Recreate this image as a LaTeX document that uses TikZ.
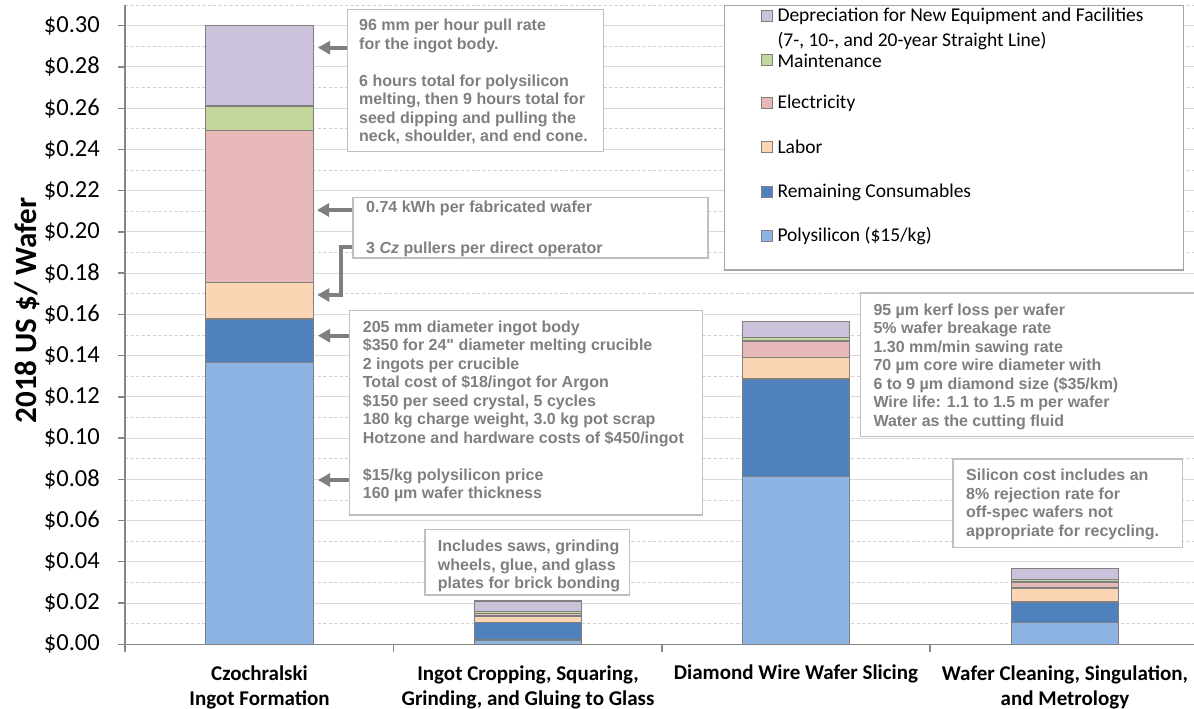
\documentclass[tikz,border=0pt]{standalone}
\usepackage{fontspec}
\setmainfont{Carlito}
\newfontfamily\arialf{Liberation Sans}
\usetikzlibrary{arrows.meta}
\definecolor{cDep}{HTML}{CCC1DA}
\definecolor{cMaint}{HTML}{C3D69B}
\definecolor{cElec}{HTML}{E6B9B8}
\definecolor{cLab}{HTML}{FCD5B5}
\definecolor{cCons}{HTML}{4F81BD}
\definecolor{cPoly}{HTML}{8EB4E3}
\definecolor{barline}{HTML}{7F7F7F}
\definecolor{gridc}{HTML}{D9D9D9}
\definecolor{gridd}{HTML}{CFCFCF}
\definecolor{axisc}{HTML}{868686}
\definecolor{notegray}{HTML}{7F7F7F}
\definecolor{boxline}{HTML}{BFBFBF}
\definecolor{arrowgray}{HTML}{7F7F7F}
\newcommand\stackbar[7]{%
  \foreach \lo/\hi/\col in {0/#2/cPoly,#2/#3/cCons,#3/#4/cLab,#4/#5/cElec,#5/#6/cMaint,#6/#7/cDep}
    \draw[barseg,fill=\col] ({#1-53.8},{644.3-2062*\lo}) rectangle ({#1+53.8},{644.3-2062*\hi});
}
\begin{document}
\begin{tikzpicture}[x=1pt,y=-1pt,
  barseg/.style={draw=barline,line width=1.3pt},
  gridsolid/.style={draw=gridc,line width=1.1pt},
  griddash/.style={draw=gridd,line width=0.8pt,dash pattern=on 3pt off 2.5pt},
  axisline/.style={draw=axisc,line width=1.3pt},
  notebox/.style={draw=boxline,line width=1.4pt,fill=white,inner sep=0pt,anchor=north west},
  notetext/.style={font=\arialf\bfseries\fontsize{16}{18.5}\selectfont,text=notegray,align=left,inner sep=0pt,anchor=west},
  arr/.style={draw=arrowgray,line width=3.8pt,-{Triangle[length=12pt,width=13pt]}},
  ticklab/.style={font=\fontsize{24.5}{28}\selectfont,anchor=east,inner sep=0pt},
  catlab/.style={font=\bfseries\fontsize{21}{25}\selectfont,align=center,inner sep=0pt},
  swatch/.style={draw=barline,line width=0.9pt,minimum size=11pt,inner sep=0pt},
  legtext/.style={font=\fontsize{19.5}{25}\selectfont,align=left,inner sep=0pt,anchor=west}
]
\useasboundingbox (0,0) rectangle (1194,709);
% gridlines
\foreach \k in {1,...,15}
  \draw[gridsolid] (125,{644.3-41.24*\k}) -- (1194,{644.3-41.24*\k});
\foreach \k in {0,...,15}
  \draw[griddash] (125,{644.3-20.62*(2*\k+1)}) -- (1194,{644.3-20.62*(2*\k+1)});
% axes
\draw[axisline] (125,5) -- (125,644.3);
\draw[axisline] (125,644.3) -- (1194,644.3);
\foreach \k in {0,...,15}
  \draw[axisline] (118,{644.3-41.24*\k}) -- (125,{644.3-41.24*\k});
\foreach \xx in {125,393.5,662,930}
  \draw[axisline] (\xx,644.3) -- (\xx,652);
% tick labels
\foreach \k/\lab in {0/0.00,1/0.02,2/0.04,3/0.06,4/0.08,5/0.10,6/0.12,7/0.14,8/0.16,9/0.18,10/0.20,11/0.22,12/0.24,13/0.26,14/0.28,15/0.30}
  \node[ticklab] (yl\k) at (100,{644.3-41.24*\k}) {\$\lab};
\node[font=\bfseries\fontsize{31}{36}\selectfont,rotate=90,anchor=base,inner sep=0pt] (ytitle) at (36,310.5) {2018 US \$/ Wafer};
% bars
\stackbar{259.5}{0.1368}{0.1578}{0.1754}{0.2491}{0.2611}{0.3000}
\stackbar{528}{0.0021}{0.0107}{0.0137}{0.0150}{0.0160}{0.0210}
\stackbar{796}{0.0813}{0.1287}{0.1390}{0.1471}{0.1487}{0.1565}
\stackbar{1065}{0.0105}{0.0205}{0.0273}{0.0302}{0.0315}{0.0369}
% category labels
\node[catlab] (cat1) at (259.5,687) {Czochralski\\Ingot Formation};
\node[catlab] (cat2) at (528,687) {Ingot Cropping, Squaring,\\Grinding, and Gluing to Glass};
\node[catlab,anchor=base] (cat3) at (796,679.8) {Diamond Wire Wafer Slicing};
\node[catlab] (cat4) at (1065,687) {Wafer Cleaning, Singulation,\\and Metrology};
% legend
\node[notebox,draw=barline!70,line width=1.2pt,minimum width=458.7pt,minimum height=264pt] (legend) at (724,5.3) {};
\node[swatch,fill=cDep] (swDep) at (766.5,15.7) {};
\node[swatch,fill=cMaint] (swMaint) at (766.5,60) {};
\node[swatch,fill=cElec] (swElec) at (766.5,103.3) {};
\node[swatch,fill=cLab] (swLab) at (766.5,146.7) {};
\node[swatch,fill=cCons] (swCons) at (766.5,191.7) {};
\node[swatch,fill=cPoly] (swPoly) at (766.5,235.7) {};
\node[legtext] (ltDep) at (777.3,29) {Depreciation for New Equipment and Facilities\\(7-, 10-, and 20-year Straight Line)};
\node[legtext] (ltMaint) at (777.3,60.5) {Maintenance};
\node[legtext] (ltElec) at (777.3,103.8) {Electricity};
\node[legtext] (ltLab) at (777.3,147.2) {Labor};
\node[legtext] (ltCons) at (777.3,192.2) {Remaining Consumables};
\node[legtext] (ltPoly) at (777.3,236.2) {Polysilicon (\$15/kg)};
% note boxes
\node[notebox,minimum width=256pt,minimum height=142pt] (boxA) at (346.7,9) {};
\node[notetext] (txtA) at (359,81.8) {96 mm per hour pull rate\\for the ingot body.\\[18.5pt]6 hours total for polysilicon\\melting, then 9 hours total for\\seed dipping and pulling the\\neck, shoulder, and end cone.};
\node[notebox,minimum width=355pt,minimum height=60.6pt] (boxB) at (352.3,196.7) {};
\node[notetext] (txtB) at (366,229) {0.74 kWh per fabricated wafer\\[22.5pt]3 \textit{Cz} pullers per direct operator};
\node[notebox,minimum width=352.7pt,minimum height=204.3pt] (boxC) at (349,310) {};
\node[notetext] (txtC) at (362.7,411.5) {205 mm diameter ingot body\\\$350 for 24" diameter melting crucible\\2 ingots per crucible\\Total cost of \$18/ingot for Argon\\\$150 per seed crystal, 5 cycles\\180 kg charge weight, 3.0 kg pot scrap\\Hotzone and hardware costs of \$450/ingot\\[18.5pt]\$15/kg polysilicon price\\160 µm wafer thickness};
\node[notebox,minimum width=204.4pt,minimum height=65.3pt] (boxD) at (424.3,529) {};
\node[notetext] (txtD) at (437.7,566) {Includes saws, grinding\\wheels, glue, and glass\\plates for brick bonding};
\node[notebox,minimum width=345pt,minimum height=143.4pt] (boxE) at (860,292.3) {};
\node[notetext] (txtE) at (873.3,366.5) {95 µm kerf loss per wafer\\5\% wafer breakage rate\\1.30 mm/min sawing rate\\70 µm core wire diameter with\\6 to 9 µm diamond size (\$35/km)\\Wire life: 1.1 to 1.5 m per wafer\\Water as the cutting fluid};
\node[notebox,minimum width=229.4pt,minimum height=88.4pt] (boxF) at (952.3,458.3) {};
\node[notetext] (txtF) at (966,504.4) {Silicon cost includes an\\8\% rejection rate for\\off-spec wafers not\\appropriate for recycling.};
% arrows
\coordinate (tipA) at (318,47.7);
\coordinate (tipB1) at (317,210);
\coordinate (sB2) at (352.3,247.3);
\coordinate (tipB2) at (317.3,295);
\coordinate (tipC1) at (318,335.7);
\coordinate (tipC2) at (318,480);
\draw[arr] (boxA.west |- tipA) -- (tipA);
\draw[arr] (boxB.west |- tipB1) -- (tipB1);
\draw[arr] (boxB.west |- sB2) -- ++(-11.6,0) |- (tipB2);
\draw[arr] (boxC.west |- tipC1) -- (tipC1);
\draw[arr] (boxC.west |- tipC2) -- (tipC2);
\end{tikzpicture}
\end{document}
